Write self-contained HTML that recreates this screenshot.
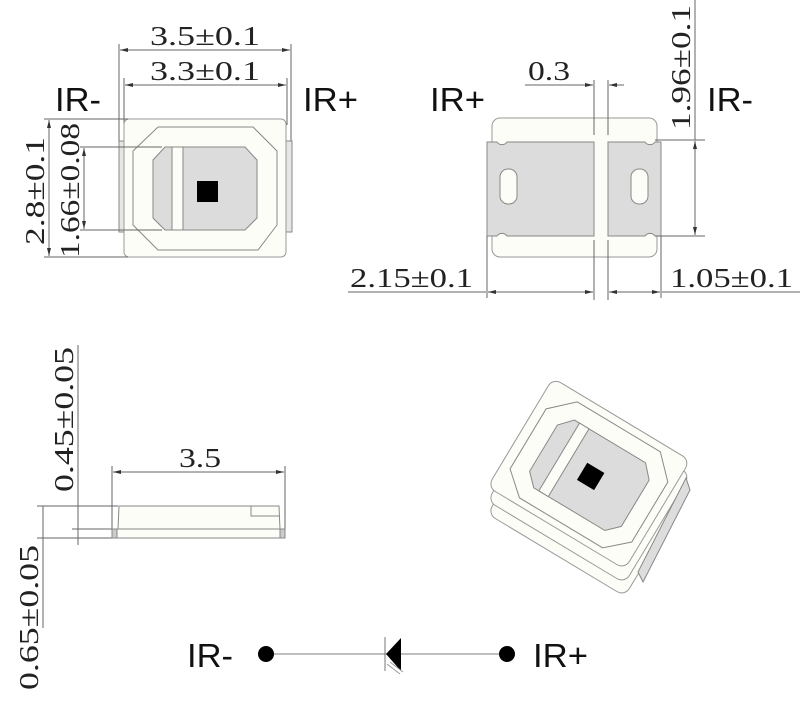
<!DOCTYPE html>
<html><head><meta charset="utf-8"><style>
html,body{margin:0;padding:0;background:#fff;}
svg{display:block;}
.d{font-family:"Liberation Serif",serif;font-size:27px;fill:#222;}
.l{font-family:"Liberation Sans",sans-serif;font-size:33px;fill:#111;}
.ln{stroke:#666;stroke-width:1;fill:none;}
.o{stroke:#888;stroke-width:1;}
</style></head><body>
<svg width="800" height="708" viewBox="0 0 800 708" xmlns="http://www.w3.org/2000/svg">
<defs>
<marker id="a" markerWidth="8" markerHeight="6" refX="8" refY="3" orient="auto-start-reverse" markerUnits="userSpaceOnUse"><path d="M0,1 L8,3 L0,5z" fill="#333"/></marker>
</defs>

<!-- ===== top-left view ===== -->
<line class="ln" x1="119" y1="44" x2="119" y2="232"/>
<line class="ln" x1="291" y1="44" x2="291" y2="232"/>
<line class="ln" x1="124" y1="78" x2="124" y2="125"/>
<line class="ln" x1="287" y1="78" x2="287" y2="125"/>
<line class="ln" x1="120" y1="50" x2="290" y2="50" marker-start="url(#a)" marker-end="url(#a)"/>
<line class="ln" x1="125" y1="85" x2="286" y2="85" marker-start="url(#a)" marker-end="url(#a)"/>
<text class="d" x="150" y="45" textLength="110" lengthAdjust="spacingAndGlyphs">3.5±0.1</text>
<text class="d" x="150" y="80" textLength="110" lengthAdjust="spacingAndGlyphs">3.3±0.1</text>
<text class="l" x="55" y="111" textLength="46" lengthAdjust="spacingAndGlyphs">IR-</text>
<text class="l" x="303" y="111" textLength="55" lengthAdjust="spacingAndGlyphs">IR+</text>

<rect x="119" y="141" width="6" height="91" fill="#e6e6e6" class="o"/>
<rect x="285" y="141" width="7" height="91" fill="#e6e6e6" class="o"/>
<rect x="124" y="119" width="162" height="138" rx="5" fill="#fdfdf7" stroke="#999"/>
<polygon points="158,127 253,127 277,151 277,225 258,250 158,250 133,225 133,151" fill="#fdfdf7" class="o"/>
<polygon points="165,147 245,147 257,160 257,218 245,230 165,230 153,218 153,160" fill="#dcdcdc" class="o"/>
<rect x="172" y="147" width="11" height="83" fill="#fdfdf7" class="o"/>
<rect x="197" y="181" width="21" height="21" fill="#000"/>
<line class="ln" x1="44" y1="119" x2="128" y2="119"/>
<line class="ln" x1="44" y1="257" x2="128" y2="257"/>
<line class="ln" x1="80" y1="147" x2="162" y2="147"/>
<line class="ln" x1="80" y1="230" x2="162" y2="230"/>
<line class="ln" x1="49" y1="120" x2="49" y2="256" marker-start="url(#a)" marker-end="url(#a)"/>
<line class="ln" x1="84" y1="148" x2="84" y2="229" marker-start="url(#a)" marker-end="url(#a)"/>
<text class="d" transform="translate(44,245) rotate(-90)" textLength="108" lengthAdjust="spacingAndGlyphs">2.8±0.1</text>
<text class="d" transform="translate(79,258) rotate(-90)" textLength="135" lengthAdjust="spacingAndGlyphs">1.66±0.08</text>

<!-- ===== top-right view ===== -->
<rect x="492" y="118" width="165" height="139" rx="8" fill="#fdfdf7" stroke="#999"/>
<path d="M487,142 L497,142 A6,6 0 0 0 507,142 L594,142 L594,236 L507,236 A6,6 0 0 0 497,236 L487,236 Z" fill="#dcdcdc" class="o"/>
<path d="M608,142 L645,142 A6,6 0 0 0 655,142 L661,142 L661,236 L655,236 A6,6 0 0 0 645,236 L608,236 Z" fill="#dcdcdc" class="o"/>
<rect x="500" y="169" width="17" height="35" rx="8" fill="#fdfdf7" class="o"/>
<rect x="631" y="169" width="17" height="35" rx="8" fill="#fdfdf7" class="o"/>
<line class="ln" x1="594" y1="80" x2="594" y2="135"/>
<line class="ln" x1="608" y1="80" x2="608" y2="135"/>
<line class="ln" x1="594" y1="240" x2="594" y2="300"/>
<line class="ln" x1="608" y1="240" x2="608" y2="300"/>
<line class="ln" x1="487" y1="236" x2="487" y2="298"/>
<line class="ln" x1="661" y1="236" x2="661" y2="298"/>
<line class="ln" x1="525" y1="85" x2="593" y2="85" marker-end="url(#a)"/>
<line class="ln" x1="624" y1="85" x2="609" y2="85" marker-end="url(#a)"/>
<text class="d" x="528" y="80" textLength="42" lengthAdjust="spacingAndGlyphs">0.3</text>
<text class="l" x="430" y="111" textLength="55" lengthAdjust="spacingAndGlyphs">IR+</text>
<text class="l" x="707" y="111" textLength="46" lengthAdjust="spacingAndGlyphs">IR-</text>
<line class="ln" x1="655" y1="140" x2="705" y2="140"/>
<line class="ln" x1="655" y1="236" x2="705" y2="236"/>
<line class="ln" x1="695" y1="0" x2="695" y2="140"/>
<line class="ln" x1="695" y1="141" x2="695" y2="235" marker-start="url(#a)" marker-end="url(#a)"/>
<text class="d" transform="translate(690,130) rotate(-90)" textLength="125" lengthAdjust="spacingAndGlyphs">1.96±0.1</text>
<line class="ln" x1="348" y1="292" x2="486" y2="292"/>
<line class="ln" x1="488" y1="292" x2="593" y2="292" marker-start="url(#a)" marker-end="url(#a)"/>
<line class="ln" x1="609" y1="292" x2="660" y2="292" marker-start="url(#a)" marker-end="url(#a)"/>
<line class="ln" x1="662" y1="292" x2="800" y2="292"/>
<text class="d" x="350" y="287" textLength="123" lengthAdjust="spacingAndGlyphs">2.15±0.1</text>
<text class="d" x="670" y="287" textLength="123" lengthAdjust="spacingAndGlyphs">1.05±0.1</text>

<!-- ===== side view ===== -->
<line class="ln" x1="78" y1="345" x2="78" y2="545"/>
<line class="ln" x1="43" y1="506" x2="43" y2="628"/>
<line class="ln" x1="37" y1="506" x2="118" y2="506"/>
<line class="ln" x1="72" y1="529" x2="113" y2="529"/>
<line class="ln" x1="37" y1="538" x2="113" y2="538"/>
<line class="ln" x1="112" y1="466" x2="112" y2="538"/>
<line class="ln" x1="285" y1="466" x2="285" y2="538"/>
<line class="ln" x1="113" y1="472" x2="284" y2="472" marker-start="url(#a)" marker-end="url(#a)"/>
<text class="d" x="179" y="467" textLength="42" lengthAdjust="spacingAndGlyphs">3.5</text>
<text class="d" transform="translate(73,492) rotate(-90)" textLength="145" lengthAdjust="spacingAndGlyphs">0.45±0.05</text>
<text class="d" transform="translate(38,690) rotate(-90)" textLength="145" lengthAdjust="spacingAndGlyphs">0.65±0.05</text>
<polygon points="118,529 119,506 279,506 280,529" fill="#fdfdf7" class="o"/>
<polyline points="251,506 251,516 279,516" class="o" fill="none"/>
<rect x="112" y="529" width="173" height="9" fill="#fdfdf7" class="o"/>
<rect x="112" y="529" width="5" height="9" fill="#ccc" class="o"/>
<rect x="280" y="529" width="5" height="9" fill="#ccc" class="o"/>

<!-- ===== isometric ===== -->
<g transform="translate(553,405) rotate(31)">
  <rect x="0" y="0" width="160" height="127" rx="9" fill="#fdfdf7" stroke="#999"/>
</g>
<g transform="translate(553,392) rotate(31)">
  <rect x="0" y="0" width="160" height="127" rx="9" fill="#fdfdf7" stroke="#999"/>
</g>
<polygon points="686,478 690,490 643,582 638,572" fill="#ddd" class="o"/>
<g transform="translate(553,378) rotate(31)">
  <rect x="0" y="0" width="160" height="127" rx="9" fill="#fdfdf7" stroke="#999"/>
  <polygon points="33,8 130,8 152,30 152,100 130,120 33,120 10,100 10,30" fill="#fdfdf7" class="o"/>
  <polygon points="40,25 123,25 135,38 135,92 123,104 40,104 28,92 28,38" fill="#dcdcdc" class="o"/>
  <rect x="46" y="25" width="11" height="79" fill="#fdfdf7" class="o"/>
  <rect x="73" y="55" width="20" height="20" fill="#000"/>
</g>

<!-- ===== schematic ===== -->
<line x1="266" y1="654" x2="507" y2="654" stroke="#999" stroke-width="1.2"/>
<circle cx="266" cy="654" r="8" fill="#000"/>
<circle cx="507" cy="654" r="8" fill="#000"/>
<polygon points="386,654 401,638 401,671" fill="#000"/>
<line x1="385" y1="637" x2="385" y2="671" stroke="#777" stroke-width="1"/>
<line x1="387" y1="664" x2="400" y2="674" stroke="#999"/>
<line x1="390" y1="662" x2="403" y2="672" stroke="#999"/>
<text class="l" x="187" y="667" textLength="46" lengthAdjust="spacingAndGlyphs">IR-</text>
<text class="l" x="533" y="667" textLength="55" lengthAdjust="spacingAndGlyphs">IR+</text>
</svg>
</body></html>
